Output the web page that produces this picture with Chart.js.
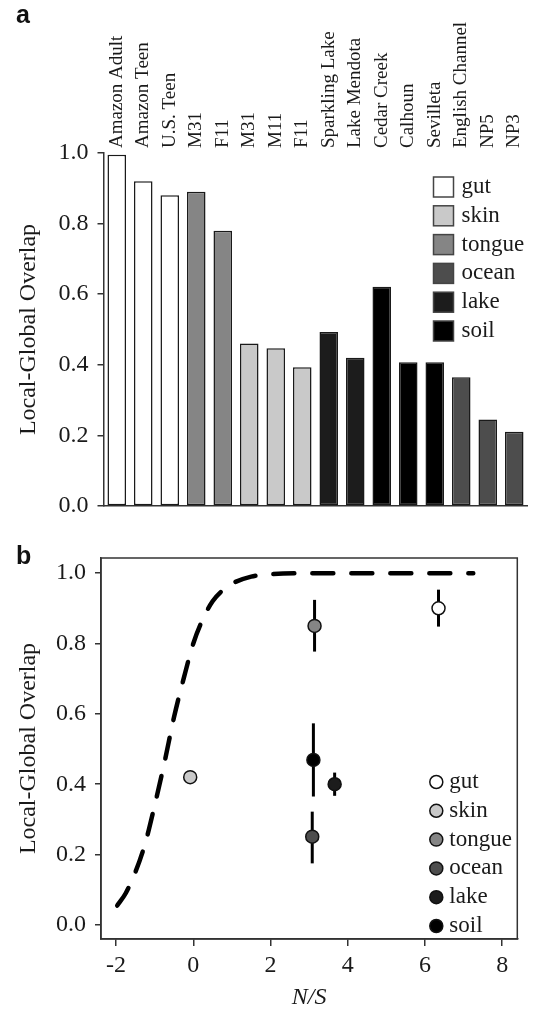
<!DOCTYPE html>
<html>
<head>
<meta charset="utf-8">
<script src="https://cdn.jsdelivr.net/npm/chart.js@4.4.1/dist/chart.umd.min.js"></script>
<style>
  body { margin: 0; background: #fff; }
  #wrap { position: relative; width: 533px; height: 1010px; }
  .panel { position: absolute; left: 0; width: 533px; }
  .tag { position: absolute; font: bold 25px "Liberation Sans", Arial, sans-serif; color: #111; }
</style>
</head>
<body>
<div id="wrap">
  <div class="panel" style="top:0;height:540px"><canvas id="barChart"></canvas></div>
  <div class="panel" style="top:545px;height:465px"><canvas id="scatterChart"></canvas></div>
  <div class="tag" style="left:16px;top:0px">a</div>
  <div class="tag" style="left:16px;top:541px">b</div>
</div>
<script>
// groups (shared by both panels)
const groupNames = ['gut', 'skin', 'tongue', 'ocean', 'lake', 'soil'];
const groupColors = ['#ffffff', '#c9c9c9', '#858585', '#4d4d4d', '#1c1c1c', '#000000'];

// panel a - one bar per site
const siteNames = ['Amazon Adult', 'Amazon Teen', 'U.S. Teen', 'M31', 'F11', 'M31', 'M11', 'F11',
  'Sparkling Lake', 'Lake Mendota', 'Cedar Creek', 'Calhoun', 'Sevilleta', 'English Channel', 'NP5', 'NP3'];
const siteGroups = ['gut', 'gut', 'gut', 'tongue', 'tongue', 'skin', 'skin', 'skin',
  'lake', 'lake', 'soil', 'soil', 'soil', 'ocean', 'ocean', 'ocean'];
const siteOverlap = [0.995, 0.92, 0.88, 0.89, 0.78, 0.46, 0.447, 0.393,
  0.493, 0.42, 0.621, 0.407, 0.407, 0.365, 0.245, 0.21];
const yTickValues = [0, 0.2, 0.4, 0.6, 0.8, 1.0];

// panel b - group means (same order as groupNames) with error bar ends
const groupNS = [6.35, -0.08, 3.14, 3.08, 3.66, 3.11];
const groupMean = [0.90, 0.42, 0.85, 0.251, 0.40, 0.469];
const groupLow = [0.848, null, 0.777, 0.175, 0.367, 0.365];
const groupHigh = [0.953, null, 0.924, 0.322, 0.433, 0.573];
const xTickValues = [-2, 0, 2, 4, 6, 8];

// dashed curve
const curveNS = [-1.97, -1.75, -1.5, -1.25, -1.0, -0.75, -0.5, -0.25, 0.0, 0.25, 0.5, 0.75, 1.0, 1.5, 2.0, 3.0, 5.0, 7.25];
const curveOverlap = [0.055, 0.09, 0.15, 0.23, 0.34, 0.46, 0.59, 0.70, 0.80, 0.87, 0.92, 0.95, 0.97, 0.99, 0.997, 1.0, 1.0, 1.0];

const SERIF = '"Liberation Serif", "Times New Roman", serif';
const INK = '#1a1a1a';
const AXIS = '#333333';

// legend with squares, drawn inside the bar chart
const squareLegend = {
  id: 'squareLegend',
  afterDraw(chart) {
    const ctx = chart.ctx;
    const area = chart.chartArea;
    ctx.save();
    ctx.font = '23px ' + SERIF;
    ctx.textBaseline = 'middle';
    groupNames.forEach((name, i) => {
      const x = area.right - 94;
      const y = area.top + 34 + i * 28.8;
      ctx.fillStyle = groupColors[i];
      ctx.fillRect(x, y - 10, 20, 20);
      ctx.strokeStyle = '#444';
      ctx.lineWidth = 1.5;
      ctx.strokeRect(x, y - 10, 20, 20);
      ctx.fillStyle = INK;
      ctx.fillText(name, x + 28, y);
    });
    ctx.restore();
  }
};

// box, error bars and circle legend for the scatter chart
const scatterExtras = {
  id: 'scatterExtras',
  beforeDatasetsDraw(chart) {
    const ctx = chart.ctx;
    const xs = chart.scales.x, ys = chart.scales.y;
    ctx.save();
    ctx.strokeStyle = '#000';
    ctx.lineWidth = 3;
    groupNames.forEach((name, i) => {
      if (groupLow[i] == null) return;
      const px = xs.getPixelForValue(groupNS[i]);
      ctx.beginPath();
      ctx.moveTo(px, ys.getPixelForValue(groupLow[i]));
      ctx.lineTo(px, ys.getPixelForValue(groupHigh[i]));
      ctx.stroke();
    });
    ctx.restore();
  },
  afterDraw(chart) {
    const ctx = chart.ctx;
    const area = chart.chartArea;
    ctx.save();
    ctx.strokeStyle = AXIS;
    ctx.lineWidth = 1.5;
    ctx.strokeRect(area.left, area.top, area.right - area.left, area.bottom - area.top);
    ctx.font = '23px ' + SERIF;
    ctx.textBaseline = 'middle';
    groupNames.forEach((name, i) => {
      const x = area.right - 81;
      const y = area.top + 224 + i * 28.8;
      ctx.beginPath();
      ctx.arc(x, y, 6.5, 0, Math.PI * 2);
      ctx.fillStyle = groupColors[i];
      ctx.fill();
      ctx.strokeStyle = '#111';
      ctx.lineWidth = 1.5;
      ctx.stroke();
      ctx.fillStyle = INK;
      ctx.fillText(name, x + 13, y);
    });
    ctx.restore();
  }
};

function yAxis(width) {
  return {
    min: 0,
    max: 1,
    grid: { drawOnChartArea: false, drawTicks: true, tickLength: 6, color: AXIS, lineWidth: 1.5 },
    border: { color: AXIS, width: 1.5 },
    ticks: { color: INK, padding: 9, font: { family: SERIF, size: 24 }, callback: v => v.toFixed(1) },
    title: { display: true, text: 'Local-Global Overlap', color: INK, padding: { top: 14, bottom: 0 }, font: { family: SERIF, size: 24 } },
    afterBuildTicks: s => { s.ticks = yTickValues.map(v => ({ value: v })); },
    afterFit: s => { s.width = width; s.paddingTop = 0; s.paddingBottom = 0; }
  };
}

// PANEL A
new Chart(document.getElementById('barChart'), {
  type: 'bar',
  data: {
    labels: siteNames,
    datasets: [{
      data: siteOverlap,
      backgroundColor: siteGroups.map(g => groupColors[groupNames.indexOf(g)]),
      borderColor: '#1a1a1a',
      borderWidth: 1.5,
      borderSkipped: false,
      barPercentage: 0.7,
      categoryPercentage: 1
    }]
  },
  options: {
    responsive: true,
    maintainAspectRatio: false,
    animation: false,
    layout: { padding: { left: 0, right: 5.5, top: 0, bottom: 0 } },
    plugins: { legend: { display: false }, tooltip: { enabled: false } },
    scales: {
      x: {
        position: 'bottom',
        offset: true,
        grid: { drawOnChartArea: false, drawTicks: false },
        border: { color: AXIS, width: 1.5 },
        ticks: { display: false },
        afterFit: s => { s.height = 34; }
      },
      xTop: {
        type: 'category',
        position: 'top',
        labels: siteNames,
        offset: true,
        grid: { display: false },
        border: { display: false },
        ticks: { autoSkip: false, minRotation: 90, maxRotation: 90, padding: -3, labelOffset: 23, color: INK, font: { family: SERIF, size: 19 } },
        afterFit: s => { s.height = 153; }
      },
      y: yAxis(103.5)
    }
  },
  plugins: [squareLegend]
});

// PANEL B
const groupDatasets = groupNames.map((name, i) => ({
  label: name,
  data: [{ x: groupNS[i], y: groupMean[i] }],
  backgroundColor: groupColors[i],
  borderColor: '#111',
  borderWidth: 1.5,
  pointRadius: 6.5
}));

new Chart(document.getElementById('scatterChart'), {
  type: 'scatter',
  data: {
    datasets: [{
      type: 'line',
      data: curveNS.map((x, i) => ({ x: x, y: curveOverlap[i] })),
      borderColor: '#000',
      borderWidth: 4.5,
      borderDash: [21, 18],
      borderCapStyle: 'round',
      cubicInterpolationMode: 'monotone',
      pointRadius: 0,
      fill: false
    }].concat(groupDatasets)
  },
  options: {
    responsive: true,
    maintainAspectRatio: false,
    animation: false,
    layout: { padding: { left: 0, right: 15.7, top: 13, bottom: 0 } },
    plugins: { legend: { display: false }, tooltip: { enabled: false } },
    scales: {
      x: {
        type: 'linear',
        min: -2.39,
        max: 8.39,
        grid: { drawOnChartArea: false, drawTicks: true, tickLength: 7, color: AXIS, lineWidth: 1.5 },
        border: { color: AXIS, width: 1.5 },
        ticks: { color: INK, padding: 5, font: { family: SERIF, size: 24 } },
        title: { display: true, text: 'N/S', color: INK, padding: { top: 0, bottom: 0 }, font: { family: SERIF, size: 24, style: 'italic', lineHeight: 1.0 } },
        afterBuildTicks: s => { s.ticks = xTickValues.map(v => ({ value: v })); },
        afterFit: s => { s.height = 71; s.paddingLeft = 0; s.paddingRight = 0; }
      },
      y: Object.assign(yAxis(101), { min: -0.04, max: 1.043 })
    }
  },
  plugins: [scatterExtras]
});
</script>
</body>
</html>
